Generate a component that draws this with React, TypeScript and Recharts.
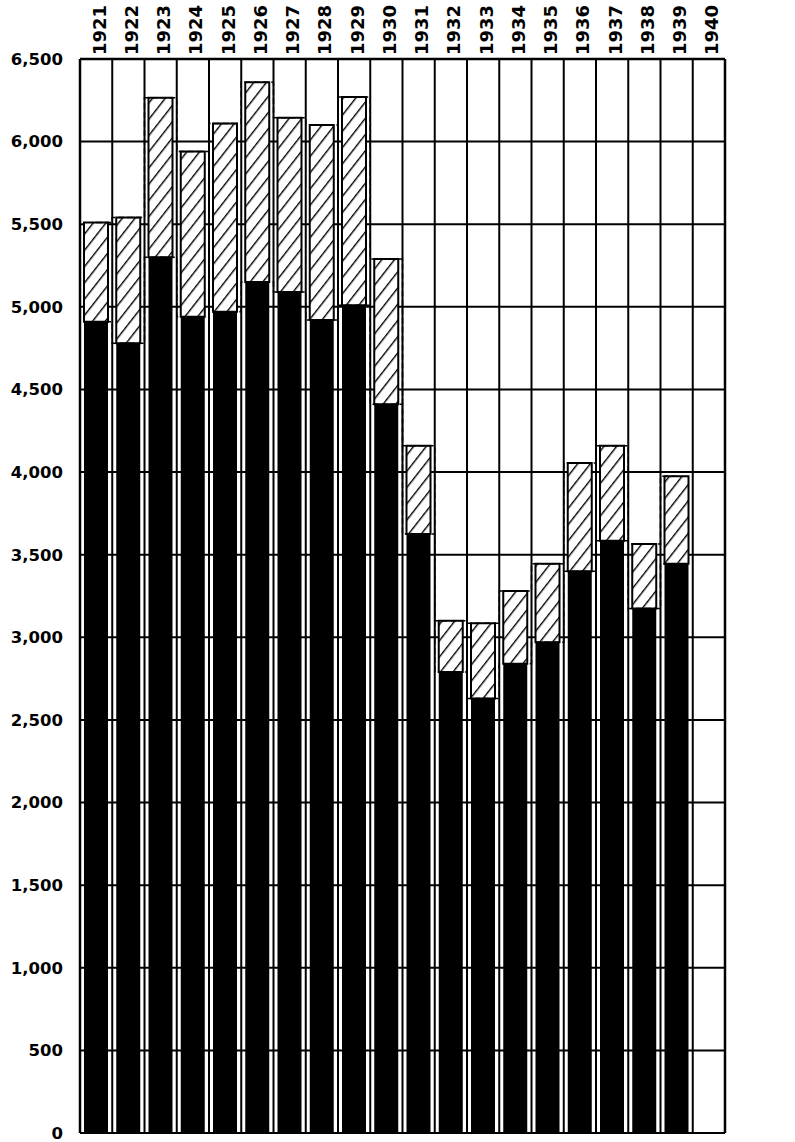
import React from "react";
import { ComposedChart, Bar, Line, XAxis, YAxis, CartesianGrid } from "recharts";

const years = [
  "1921", "1922", "1923", "1924", "1925", "1926", "1927", "1928", "1929", "1930",
  "1931", "1932", "1933", "1934", "1935", "1936", "1937", "1938", "1939", "1940",
];

// solid black part of each bar
const baseValues = [
  4910, 4780, 5300, 4940, 4970, 5150, 5090, 4920, 5010, 4410,
  3625, 2790, 2630, 2840, 2970, 3400, 3585, 3175, 3445, null,
];

// top of the hatched part (total)
const totalValues = [
  5510, 5540, 6265, 5940, 6110, 6360, 6145, 6100, 6270, 5290,
  4160, 3100, 3085, 3280, 3445, 4055, 4160, 3565, 3975, null,
];

const yTicks = [0, 500, 1000, 1500, 2000, 2500, 3000, 3500, 4000, 4500, 5000, 5500, 6000, 6500];

const data = years.map((year, i) => {
  const base = baseValues[i];
  const total = totalValues[i];
  return {
    year,
    base,
    extra: base != null && total != null ? total - base : null,
    total,
  };
});

const FONT = "DejaVu Sans";

function formatTick(v: number) {
  return v.toLocaleString("en-US");
}

function YearTick(props: any) {
  const { x, y, payload } = props;
  const tx = x + 3;
  return (
    <text
      x={tx}
      y={y}
      transform={`rotate(-90, ${tx}, ${y})`}
      textAnchor="start"
      dominantBaseline="central"
      fontFamily={FONT}
      fontWeight="bold"
      fontSize={18}
      fill="#000"
    >
      {payload.value}
    </text>
  );
}

export default function App() {
  return (
    <div style={{ position: "absolute", left: 0, top: 0, background: "#fff" }}>
      <ComposedChart
        width={795}
        height={1142}
        data={data}
        margin={{ top: 0, right: 0, bottom: 9, left: 0 }}
        barSize={24}
      >
        <defs>
          <pattern
            id="hatch"
            patternUnits="userSpaceOnUse"
            width={10}
            height={10}
            patternTransform="rotate(38)"
          >
            <rect width={10} height={10} fill="#fff" />
            <line x1={0} y1={0} x2={0} y2={10} stroke="#000" strokeWidth={2.8} />
          </pattern>
        </defs>
        <CartesianGrid
          yAxisId="left"
          stroke="#000"
          strokeWidth={2}
          horizontalValues={yTicks}
          verticalCoordinatesGenerator={({ offset }: any) =>
            years.map((_, i) => offset.left + (i * offset.width) / years.length).concat(offset.left + offset.width)
          }
        />
        <XAxis
          dataKey="year"
          orientation="top"
          height={59}
          tick={<YearTick />}
          tickLine={false}
          tickSize={0}
          tickMargin={4}
          axisLine={{ stroke: "#000", strokeWidth: 2.5 }}
          interval={0}
        />
        <YAxis
          yAxisId="left"
          orientation="left"
          width={80}
          domain={[0, 6500]}
          ticks={yTicks}
          interval={0}
          tickFormatter={formatTick}
          tickLine={false}
          tickMargin={11}
          axisLine={{ stroke: "#000", strokeWidth: 2.5 }}
          tick={{ fill: "#000", fontSize: 16.5, fontWeight: "bold", fontFamily: FONT }}
        />
        <YAxis
          yAxisId="right"
          orientation="right"
          width={70}
          domain={[0, 6500]}
          ticks={yTicks}
          interval={0}
          tickFormatter={formatTick}
          tickLine={false}
          tickMargin={8}
          axisLine={{ stroke: "#000", strokeWidth: 2.5 }}
          tick={{ fill: "#000", fontSize: 16.5, fontWeight: "bold", fontFamily: FONT }}
        />
        <Bar
          yAxisId="left"
          dataKey="base"
          stackId="a"
          fill="#000"
          isAnimationActive={false}
        />
        <Bar
          yAxisId="left"
          dataKey="extra"
          stackId="a"
          fill="url(#hatch)"
          stroke="#000"
          strokeWidth={2}
          isAnimationActive={false}
        />
        <Line
          yAxisId="left"
          dataKey="total"
          type="step"
          stroke="#000"
          strokeWidth={1.5}
          strokeDasharray="6 3"
          dot={false}
          activeDot={false}
          isAnimationActive={false}
        />
        <Line
          yAxisId="left"
          dataKey="base"
          type="step"
          stroke="#000"
          strokeWidth={1.5}
          strokeDasharray="6 3"
          dot={false}
          activeDot={false}
          isAnimationActive={false}
        />
      </ComposedChart>
    </div>
  );
}
